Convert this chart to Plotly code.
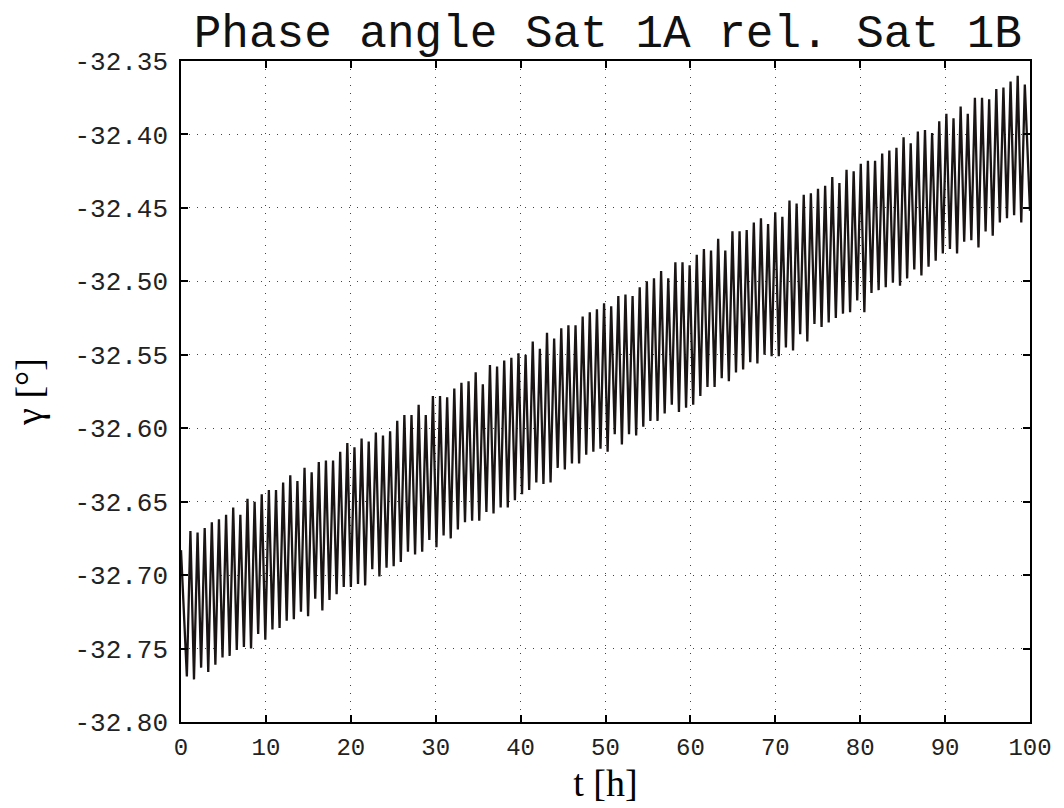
import plotly.graph_objects as go

# Time of each oscillation maximum [h]
peak_t = [
    1.11, 1.95, 2.79, 3.63, 4.47, 5.31, 6.15, 6.99, 7.83, 8.67,
    9.51, 10.35, 11.19, 12.03, 12.87, 13.71, 14.55, 15.39, 16.23, 17.07,
    17.91, 18.75, 19.59, 20.43, 21.27, 22.11, 22.95, 23.79, 24.63, 25.47,
    26.31, 27.15, 27.99, 28.83, 29.67, 30.51, 31.35, 32.19, 33.03, 33.87,
    34.71, 35.55, 36.39, 37.23, 38.07, 38.91, 39.75, 40.59, 41.43, 42.27,
    43.11, 43.95, 44.79, 45.63, 46.47, 47.31, 48.15, 48.99, 49.83, 50.67,
    51.51, 52.35, 53.19, 54.03, 54.87, 55.71, 56.55, 57.39, 58.23, 59.07,
    59.91, 60.75, 61.59, 62.43, 63.27, 64.11, 64.95, 65.79, 66.63, 67.47,
    68.31, 69.15, 69.99, 70.83, 71.67, 72.51, 73.35, 74.19, 75.03, 75.87,
    76.71, 77.55, 78.39, 79.23, 80.07, 80.91, 81.75, 82.59, 83.43, 84.27,
    85.11, 85.95, 86.79, 87.63, 88.47, 89.31, 90.15, 90.99, 91.83, 92.67,
    93.51, 94.35, 95.19, 96.03, 96.87, 97.71, 98.55, 99.39,
]
# Value of each maximum [deg]
peak_v = [
    -32.670, -32.671, -32.668, -32.664, -32.662, -32.659, -32.654, -32.659, -32.648, -32.650,
    -32.645, -32.642, -32.642, -32.637, -32.632, -32.636, -32.627, -32.630, -32.623, -32.622,
    -32.622, -32.616, -32.610, -32.613, -32.607, -32.609, -32.603, -32.605, -32.602, -32.595,
    -32.591, -32.591, -32.584, -32.591, -32.578, -32.578, -32.579, -32.573, -32.569, -32.568,
    -32.562, -32.570, -32.557, -32.558, -32.554, -32.552, -32.549, -32.550, -32.541, -32.546,
    -32.535, -32.539, -32.532, -32.530, -32.530, -32.524, -32.521, -32.519, -32.515, -32.517,
    -32.510, -32.509, -32.510, -32.504, -32.500, -32.498, -32.493, -32.498, -32.487, -32.487,
    -32.489, -32.482, -32.478, -32.479, -32.471, -32.479, -32.466, -32.466, -32.465, -32.460,
    -32.457, -32.461, -32.453, -32.456, -32.445, -32.447, -32.441, -32.440, -32.437, -32.435,
    -32.429, -32.433, -32.424, -32.425, -32.420, -32.418, -32.418, -32.413, -32.411, -32.409,
    -32.402, -32.406, -32.398, -32.397, -32.399, -32.391, -32.386, -32.389, -32.381, -32.386,
    -32.375, -32.375, -32.376, -32.369, -32.368, -32.364, -32.360, -32.366,
]
# Time of each oscillation minimum [h]
trough_t = [
    0.69, 1.53, 2.37, 3.21, 4.05, 4.89, 5.73, 6.57, 7.41, 8.25,
    9.09, 9.93, 10.77, 11.61, 12.45, 13.29, 14.13, 14.97, 15.81, 16.65,
    17.49, 18.33, 19.17, 20.01, 20.85, 21.69, 22.53, 23.37, 24.21, 25.05,
    25.89, 26.73, 27.57, 28.41, 29.25, 30.09, 30.93, 31.77, 32.61, 33.45,
    34.29, 35.13, 35.97, 36.81, 37.65, 38.49, 39.33, 40.17, 41.01, 41.85,
    42.69, 43.53, 44.37, 45.21, 46.05, 46.89, 47.73, 48.57, 49.41, 50.25,
    51.09, 51.93, 52.77, 53.61, 54.45, 55.29, 56.13, 56.97, 57.81, 58.65,
    59.49, 60.33, 61.17, 62.01, 62.85, 63.69, 64.53, 65.37, 66.21, 67.05,
    67.89, 68.73, 69.57, 70.41, 71.25, 72.09, 72.93, 73.77, 74.61, 75.45,
    76.29, 77.13, 77.97, 78.81, 79.65, 80.49, 81.33, 82.17, 83.01, 83.85,
    84.69, 85.53, 86.37, 87.21, 88.05, 88.89, 89.73, 90.57, 91.41, 92.25,
    93.09, 93.93, 94.77, 95.61, 96.45, 97.29, 98.13, 98.97,
]
# Value of each minimum [deg]
trough_v = [
    -32.769, -32.771, -32.763, -32.766, -32.761, -32.756, -32.755, -32.751, -32.749, -32.750,
    -32.740, -32.744, -32.737, -32.736, -32.731, -32.730, -32.725, -32.728, -32.716, -32.724,
    -32.717, -32.713, -32.708, -32.708, -32.706, -32.707, -32.696, -32.701, -32.695, -32.694,
    -32.691, -32.684, -32.686, -32.684, -32.676, -32.681, -32.673, -32.675, -32.669, -32.664,
    -32.663, -32.663, -32.657, -32.658, -32.654, -32.654, -32.649, -32.645, -32.642, -32.637,
    -32.638, -32.637, -32.627, -32.628, -32.624, -32.624, -32.618, -32.616, -32.614, -32.616,
    -32.604, -32.611, -32.604, -32.605, -32.599, -32.595, -32.595, -32.590, -32.584, -32.589,
    -32.586, -32.584, -32.578, -32.572, -32.572, -32.566, -32.568, -32.562, -32.560, -32.555,
    -32.556, -32.550, -32.551, -32.551, -32.545, -32.547, -32.536, -32.541, -32.529, -32.531,
    -32.528, -32.525, -32.522, -32.521, -32.513, -32.521, -32.508, -32.506, -32.504, -32.501,
    -32.503, -32.498, -32.492, -32.496, -32.490, -32.486, -32.481, -32.478, -32.481, -32.473,
    -32.472, -32.477, -32.466, -32.469, -32.460, -32.457, -32.455, -32.460,
]
start_t, start_v = 0.0, -32.683
end_t, end_v = 100.0, -32.452

x_ticks = [0, 10, 20, 30, 40, 50, 60, 70, 80, 90, 100]
y_ticks = [-32.80, -32.75, -32.70, -32.65, -32.60, -32.55, -32.50, -32.45, -32.40, -32.35]
y_ticktext = ["-32.80", "-32.75", "-32.70", "-32.65", "-32.60",
              "-32.55", "-32.50", "-32.45", "-32.40", "-32.35"]

# interleave minima and maxima into one trace
t = [start_t]
g = [start_v]
for tt, tv, pt, pv in zip(trough_t, trough_v, peak_t, peak_v):
    t += [tt, pt]
    g += [tv, pv]
t.append(end_t)
g.append(end_v)

fig = go.Figure()
fig.add_trace(go.Scatter(x=t, y=g, mode="lines",
                         line=dict(color="#1a1414", width=2.3),
                         showlegend=False, hoverinfo="skip"))

axis_common = dict(
    showline=True, linecolor="black", linewidth=1.5, mirror="ticks",
    ticks="inside", ticklen=7, tickwidth=1.5, tickcolor="black",
    showgrid=True, gridcolor="#444444", gridwidth=1, griddash="1px,7px",
    zeroline=False,
)

# the page body adds an 8px offset; the figure is sized to fill the rest
fig.update_layout(
    width=1056, height=800,
    paper_bgcolor="white", plot_bgcolor="white",
    margin=dict(l=173, r=28, t=53, b=82),
    title=dict(text="Phase angle Sat 1A rel. Sat 1B",
               font=dict(family="Liberation Mono", size=46, color="#111111"),
               x=0.568, xanchor="center", xref="container",
               y=0.972, yanchor="middle", yref="container"),
    xaxis=dict(range=[0, 100], tickvals=x_ticks,
               tickfont=dict(family="Liberation Mono", size=24, color="#222222"),
               ticklabelstandoff=2,
               title=dict(text="t [h]", standoff=8,
                          font=dict(family="Liberation Serif", size=38, color="black")),
               **axis_common),
    yaxis=dict(range=[-32.80, -32.35], tickvals=y_ticks, ticktext=y_ticktext,
               tickfont=dict(family="Liberation Mono", size=26, color="#222222"),
               ticklabelstandoff=6,
               title=dict(text="γ [°]", standoff=22,
                          font=dict(family="Liberation Serif", size=38, color="black")),
               **axis_common),
)

fig.write_html("out.html")
